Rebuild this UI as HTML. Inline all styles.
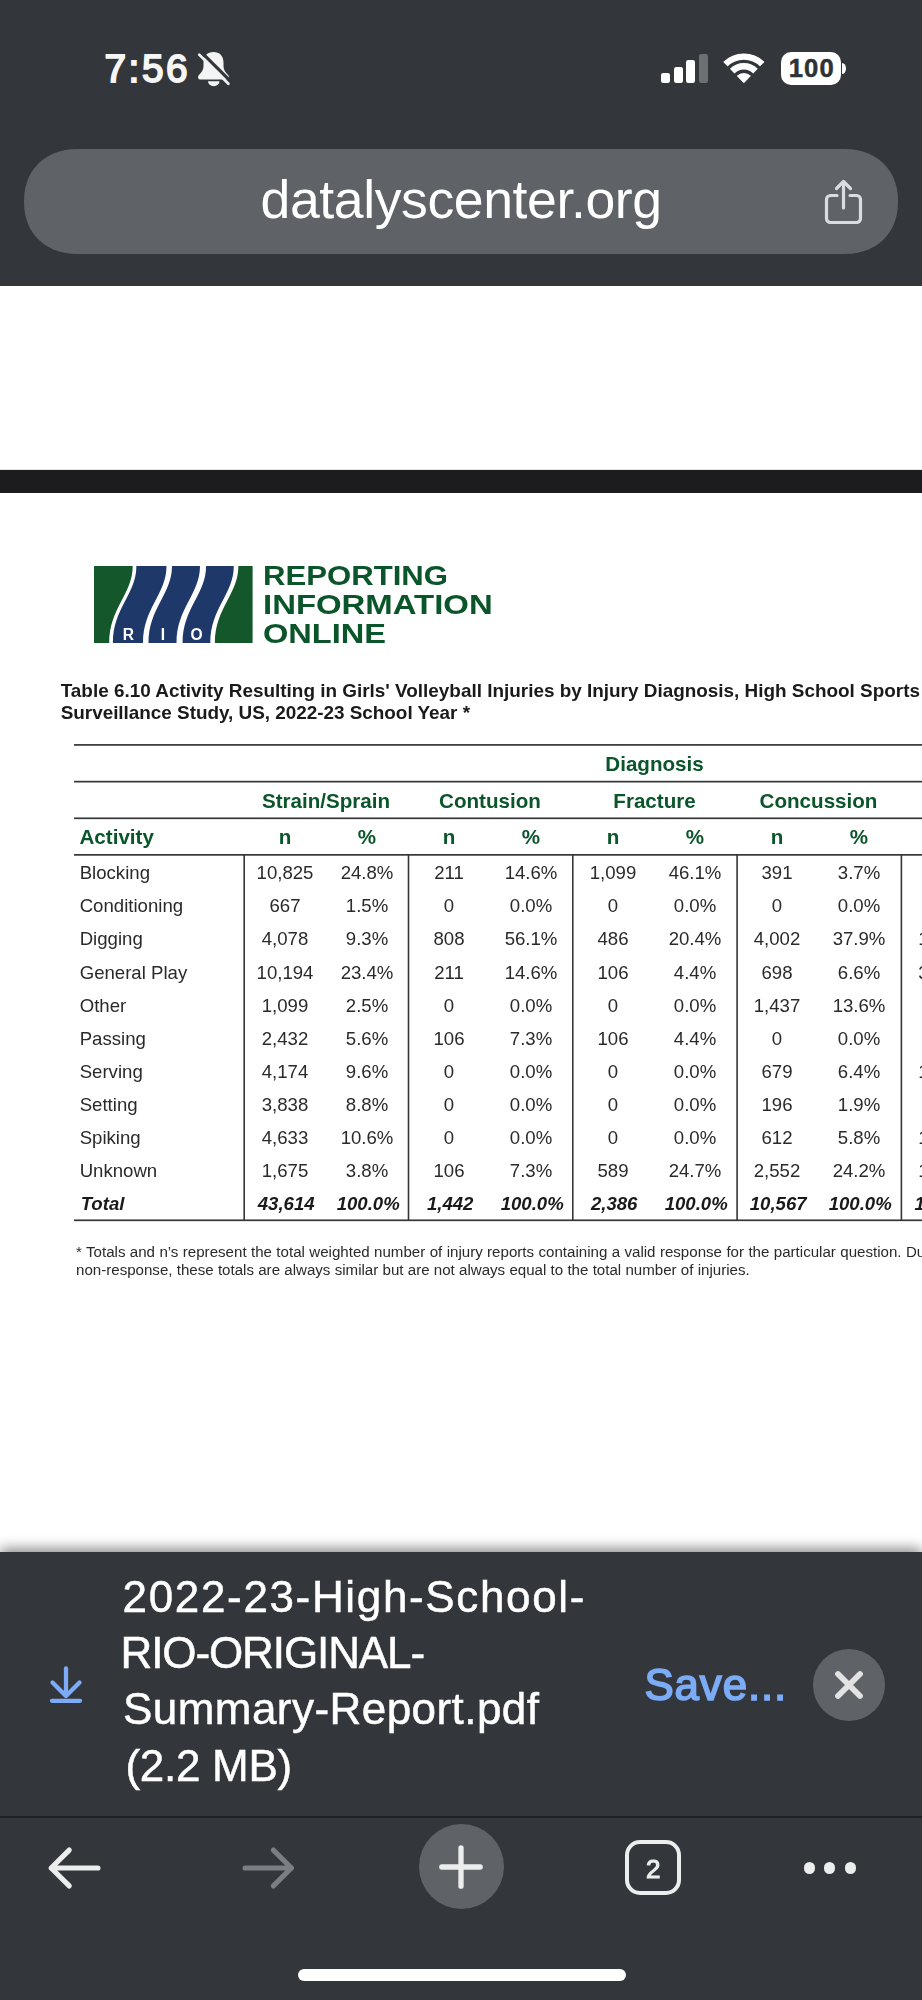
<!DOCTYPE html>
<html><head><meta charset="utf-8"><title>datalyscenter.org</title>
<style>
html,body{margin:0;padding:0;}
body{width:922px;height:2000px;position:relative;overflow:hidden;background:#fff;font-family:"Liberation Sans",sans-serif;}
.t{position:absolute;white-space:nowrap;line-height:1;}
.a{position:absolute;}
.hl{position:absolute;background:#363636;height:1.6px;}
.vl{position:absolute;background:#363636;width:1.6px;}
</style></head><body><div id="root" style="position:absolute;left:0;top:0;width:922px;height:2000px;opacity:.9999">

<div class="a" style="left:0;top:0;width:922px;height:285.5px;background:#33363a"></div>
<div class="t" style="top:49.76px;font-size:38.8px;color:#f6f6f6;font-weight:400;letter-spacing:2.6px;left:104.4px;-webkit-text-stroke:1.8px #f6f6f6;">7:56</div>
<svg class="a" style="left:190px;top:45px" width="50" height="50" viewBox="0 0 50 50">
<path d="M23.5 7C29.5 7 33.5 11 33.5 17.5L33.5 21C33.5 25 35.5 27.5 38 30C39.8 31.8 39 34.5 36.5 34.5L10.5 34.5C8 34.5 7.2 31.8 9 30C11.5 27.5 13.5 25 13.5 21L13.5 17.5C13.5 11 17.5 7 23.5 7Z" fill="#f4f4f4"/>
<path d="M18 36.2H29.5A5.750 5 0 0 1 18 36.2Z" fill="#f4f4f4"/>
<path d="M11.300 7.100L40.900 36.700" stroke="#33363a" stroke-width="3.200"/>
<path d="M9.200 9.600L38.400 38.800" stroke="#f4f4f4" stroke-width="2.700" stroke-linecap="round"/>
</svg>
<div class="a" style="left:661px;top:72.6px;width:9px;height:10.0px;background:#fff;border-radius:2.2px"></div>
<div class="a" style="left:673.7px;top:66.7px;width:9px;height:15.9px;background:#fff;border-radius:2.2px"></div>
<div class="a" style="left:686.4px;top:60px;width:9px;height:22.6px;background:#fff;border-radius:2.2px"></div>
<div class="a" style="left:699.1px;top:53.6px;width:9px;height:29.0px;background:#6d7073;border-radius:2.2px"></div>
<svg class="a" style="left:720px;top:50px" width="48" height="36" viewBox="0 0 48 36">
<defs><clipPath id="wf"><path d="M23.850 33.300L-8.350 -0.200H56.050Z"/></clipPath></defs>
<g clip-path="url(#wf)" fill="none" stroke="#fff">
<circle cx="23.850" cy="32.800" r="26.200" stroke-width="6.400"/>
<circle cx="23.850" cy="32.800" r="16.450" stroke-width="6.500"/>
<circle cx="23.850" cy="32.800" r="5" stroke-width="9.600"/>
</g></svg>
<div class="a" style="left:781px;top:52.100px;width:59.700px;height:32.600px;background:#fff;border-radius:10px"></div>
<div class="a" style="left:842.400px;top:63.300px;width:3.800px;height:10.400px;background:#fff;border-radius:0 4px 4px 0/0 5.200px 5.200px 0"></div>
<div class="t" style="top:55.93px;font-size:25.6px;color:#2f3235;font-weight:700;letter-spacing:1.2px;left:511.80px;width:600px;text-align:center;-webkit-text-stroke:0.5px #2f3235;">100</div>
<svg class="a" style="left:0;top:140px" width="922" height="124" viewBox="0 140 922 124"><path d="M844.0 149.0L851.2 149.3L857.6 150.2L863.5 151.7L869.1 153.8L874.3 156.4L879.0 159.6L883.3 163.3L887.1 167.5L890.4 172.1L893.1 177.1L895.2 182.5L896.8 188.3L897.7 194.5L898.0 201.5L897.7 208.5L896.8 214.7L895.2 220.5L893.1 225.9L890.4 230.9L887.1 235.5L883.3 239.7L879.0 243.4L874.3 246.6L869.1 249.2L863.5 251.3L857.6 252.8L851.2 253.7L844.0 254.0L78.0 254.0L70.8 253.7L64.4 252.8L58.5 251.3L52.9 249.2L47.7 246.6L43.0 243.4L38.7 239.7L34.9 235.5L31.6 230.9L28.9 225.9L26.8 220.5L25.2 214.7L24.3 208.5L24.0 201.5L24.3 194.5L25.2 188.3L26.8 182.5L28.9 177.1L31.6 172.1L34.9 167.5L38.7 163.3L43.0 159.6L47.7 156.4L52.9 153.8L58.5 151.7L64.4 150.2L70.8 149.3L78.0 149.0Z" fill="#5f6368"/></svg>
<div class="t" style="top:172.93px;font-size:53.6px;color:#fff;font-weight:400;letter-spacing:-0.42px;left:161.09px;width:600px;text-align:center;">datalyscenter.org</div>
<svg class="a" style="left:820px;top:176px" width="48" height="52" viewBox="0 0 48 52">
<g fill="none" stroke="#dadce0" stroke-width="3.200" stroke-linecap="round" stroke-linejoin="round">
<path d="M17 19.500h-6.500a4 4 0 0 0-4 4v19a4 4 0 0 0 4 4h26a4 4 0 0 0 4-4v-19a4 4 0 0 0-4-4H30"/>
<path d="M23.500 32V6"/><path d="M16.500 12.500l7-7 7 7"/>
</g></svg>
<div class="a" style="left:0;top:470px;width:922px;height:23px;background:#1c1c1e"></div>
<div class="a" style="left:0;top:468.500px;width:922px;height:1.500px;background:#e6e6e6"></div>
<svg class="a" style="left:94px;top:565.500px" width="159" height="77" viewBox="0 0 159 77"><rect x="0" y="0" width="158.600" height="77" fill="#13572b"/><path d="M38.7 0H144.4C144.4 28 120.9 42 120.9 77H15.200000000000003C15.200000000000003 42 38.7 28 38.7 0Z" fill="#fff"/><path d="M42.4 0H72.5C72.5 28 49.0 42 49.0 77H18.9C18.9 42 42.4 28 42.4 0Z" fill="#1d3869"/><path d="M78 0H106C106 28 82.5 42 82.5 77H54.5C54.5 42 78 28 78 0Z" fill="#1d3869"/><path d="M112.1 0H139.8C139.8 28 116.30000000000001 42 116.30000000000001 77H88.6C88.6 42 112.1 28 112.1 0Z" fill="#1d3869"/><g fill="#fff" font-family="Liberation Sans, sans-serif" font-weight="700" font-size="15.600" text-anchor="middle"><text x="34.500" y="74.200">R</text><text x="68.900" y="74.200">I</text><text x="102.600" y="74.200">O</text></g></svg>
<div class="t" style="top:561.46px;font-size:28.4px;color:#0a5529;font-weight:700;left:262.6px;transform:scaleX(1.096);transform-origin:0 0;">REPORTING</div>
<div class="t" style="top:590.06px;font-size:28.4px;color:#0a5529;font-weight:700;left:262.6px;transform:scaleX(1.159);transform-origin:0 0;">INFORMATION</div>
<div class="t" style="top:618.76px;font-size:28.4px;color:#0a5529;font-weight:700;left:262.6px;transform:scaleX(1.147);transform-origin:0 0;">ONLINE</div>
<div class="t" style="top:682.08px;font-size:18.92px;color:#1a1a1a;font-weight:700;left:60.7px;">Table 6.10 Activity Resulting in Girls' Volleyball Injuries by Injury Diagnosis, High School Sports</div>
<div class="t" style="top:703.88px;font-size:18.92px;color:#1a1a1a;font-weight:700;letter-spacing:-0.02px;left:60.7px;">Surveillance Study, US, 2022-23 School Year *</div>
<svg class="a" style="left:0;top:740px" width="922" height="490" viewBox="0 740 922 490" shape-rendering="geometricPrecision"><rect x="74" y="744.05" width="860" height="1.700" fill="#363636"/><rect x="74" y="780.80" width="860" height="1.700" fill="#363636"/><rect x="74" y="817.45" width="860" height="1.700" fill="#363636"/><rect x="74" y="854.00" width="860" height="1.700" fill="#363636"/><rect x="74" y="1219.45" width="860" height="1.700" fill="#363636"/><rect x="243.40" y="854.850" width="1.600" height="365.450" fill="#363636"/><rect x="407.70" y="854.850" width="1.600" height="365.450" fill="#363636"/><rect x="572.00" y="854.850" width="1.600" height="365.450" fill="#363636"/><rect x="736.30" y="854.850" width="1.600" height="365.450" fill="#363636"/><rect x="900.60" y="854.850" width="1.600" height="365.450" fill="#363636"/></svg>
<div class="t" style="top:753.56px;font-size:20.6px;color:#0a5529;font-weight:700;left:354.50px;width:600px;text-align:center;">Diagnosis</div>
<div class="t" style="top:791.16px;font-size:20.6px;color:#0a5529;font-weight:700;left:26.00px;width:600px;text-align:center;">Strain/Sprain</div>
<div class="t" style="top:791.16px;font-size:20.6px;color:#0a5529;font-weight:700;left:190.00px;width:600px;text-align:center;">Contusion</div>
<div class="t" style="top:791.16px;font-size:20.6px;color:#0a5529;font-weight:700;left:354.50px;width:600px;text-align:center;">Fracture</div>
<div class="t" style="top:791.16px;font-size:20.6px;color:#0a5529;font-weight:700;left:518.50px;width:600px;text-align:center;">Concussion</div>
<div class="t" style="top:826.56px;font-size:20.6px;color:#0a5529;font-weight:700;left:79.5px;">Activity</div>
<div class="t" style="top:826.56px;font-size:20.6px;color:#0a5529;font-weight:700;left:-15.00px;width:600px;text-align:center;">n</div>
<div class="t" style="top:826.56px;font-size:20.6px;color:#0a5529;font-weight:700;left:149.00px;width:600px;text-align:center;">n</div>
<div class="t" style="top:826.56px;font-size:20.6px;color:#0a5529;font-weight:700;left:313.00px;width:600px;text-align:center;">n</div>
<div class="t" style="top:826.56px;font-size:20.6px;color:#0a5529;font-weight:700;left:477.00px;width:600px;text-align:center;">n</div>
<div class="t" style="top:826.56px;font-size:20.6px;color:#0a5529;font-weight:700;left:67.00px;width:600px;text-align:center;">%</div>
<div class="t" style="top:826.56px;font-size:20.6px;color:#0a5529;font-weight:700;left:231.00px;width:600px;text-align:center;">%</div>
<div class="t" style="top:826.56px;font-size:20.6px;color:#0a5529;font-weight:700;left:395.00px;width:600px;text-align:center;">%</div>
<div class="t" style="top:826.56px;font-size:20.6px;color:#0a5529;font-weight:700;left:559.00px;width:600px;text-align:center;">%</div>
<div class="t" style="top:864.26px;font-size:18.6px;color:#2a2a2a;font-weight:400;left:79.7px;">Blocking</div>
<div class="t" style="top:864.26px;font-size:18.6px;color:#2a2a2a;font-weight:400;left:-15.00px;width:600px;text-align:center;">10,825</div>
<div class="t" style="top:864.26px;font-size:18.6px;color:#2a2a2a;font-weight:400;left:67.00px;width:600px;text-align:center;">24.8%</div>
<div class="t" style="top:864.26px;font-size:18.6px;color:#2a2a2a;font-weight:400;left:149.00px;width:600px;text-align:center;">211</div>
<div class="t" style="top:864.26px;font-size:18.6px;color:#2a2a2a;font-weight:400;left:231.00px;width:600px;text-align:center;">14.6%</div>
<div class="t" style="top:864.26px;font-size:18.6px;color:#2a2a2a;font-weight:400;left:313.00px;width:600px;text-align:center;">1,099</div>
<div class="t" style="top:864.26px;font-size:18.6px;color:#2a2a2a;font-weight:400;left:395.00px;width:600px;text-align:center;">46.1%</div>
<div class="t" style="top:864.26px;font-size:18.6px;color:#2a2a2a;font-weight:400;left:477.00px;width:600px;text-align:center;">391</div>
<div class="t" style="top:864.26px;font-size:18.6px;color:#2a2a2a;font-weight:400;left:559.00px;width:600px;text-align:center;">3.7%</div>
<div class="t" style="top:897.36px;font-size:18.6px;color:#2a2a2a;font-weight:400;left:79.7px;">Conditioning</div>
<div class="t" style="top:897.36px;font-size:18.6px;color:#2a2a2a;font-weight:400;left:-15.00px;width:600px;text-align:center;">667</div>
<div class="t" style="top:897.36px;font-size:18.6px;color:#2a2a2a;font-weight:400;left:67.00px;width:600px;text-align:center;">1.5%</div>
<div class="t" style="top:897.36px;font-size:18.6px;color:#2a2a2a;font-weight:400;left:149.00px;width:600px;text-align:center;">0</div>
<div class="t" style="top:897.36px;font-size:18.6px;color:#2a2a2a;font-weight:400;left:231.00px;width:600px;text-align:center;">0.0%</div>
<div class="t" style="top:897.36px;font-size:18.6px;color:#2a2a2a;font-weight:400;left:313.00px;width:600px;text-align:center;">0</div>
<div class="t" style="top:897.36px;font-size:18.6px;color:#2a2a2a;font-weight:400;left:395.00px;width:600px;text-align:center;">0.0%</div>
<div class="t" style="top:897.36px;font-size:18.6px;color:#2a2a2a;font-weight:400;left:477.00px;width:600px;text-align:center;">0</div>
<div class="t" style="top:897.36px;font-size:18.6px;color:#2a2a2a;font-weight:400;left:559.00px;width:600px;text-align:center;">0.0%</div>
<div class="t" style="top:930.46px;font-size:18.6px;color:#2a2a2a;font-weight:400;left:79.7px;">Digging</div>
<div class="t" style="top:930.46px;font-size:18.6px;color:#2a2a2a;font-weight:400;left:-15.00px;width:600px;text-align:center;">4,078</div>
<div class="t" style="top:930.46px;font-size:18.6px;color:#2a2a2a;font-weight:400;left:67.00px;width:600px;text-align:center;">9.3%</div>
<div class="t" style="top:930.46px;font-size:18.6px;color:#2a2a2a;font-weight:400;left:149.00px;width:600px;text-align:center;">808</div>
<div class="t" style="top:930.46px;font-size:18.6px;color:#2a2a2a;font-weight:400;left:231.00px;width:600px;text-align:center;">56.1%</div>
<div class="t" style="top:930.46px;font-size:18.6px;color:#2a2a2a;font-weight:400;left:313.00px;width:600px;text-align:center;">486</div>
<div class="t" style="top:930.46px;font-size:18.6px;color:#2a2a2a;font-weight:400;left:395.00px;width:600px;text-align:center;">20.4%</div>
<div class="t" style="top:930.46px;font-size:18.6px;color:#2a2a2a;font-weight:400;left:477.00px;width:600px;text-align:center;">4,002</div>
<div class="t" style="top:930.46px;font-size:18.6px;color:#2a2a2a;font-weight:400;left:559.00px;width:600px;text-align:center;">37.9%</div>
<div class="t" style="top:930.46px;font-size:18.6px;color:#2a2a2a;font-weight:400;left:918.3px;">1</div>
<div class="t" style="top:963.56px;font-size:18.6px;color:#2a2a2a;font-weight:400;left:79.7px;">General Play</div>
<div class="t" style="top:963.56px;font-size:18.6px;color:#2a2a2a;font-weight:400;left:-15.00px;width:600px;text-align:center;">10,194</div>
<div class="t" style="top:963.56px;font-size:18.6px;color:#2a2a2a;font-weight:400;left:67.00px;width:600px;text-align:center;">23.4%</div>
<div class="t" style="top:963.56px;font-size:18.6px;color:#2a2a2a;font-weight:400;left:149.00px;width:600px;text-align:center;">211</div>
<div class="t" style="top:963.56px;font-size:18.6px;color:#2a2a2a;font-weight:400;left:231.00px;width:600px;text-align:center;">14.6%</div>
<div class="t" style="top:963.56px;font-size:18.6px;color:#2a2a2a;font-weight:400;left:313.00px;width:600px;text-align:center;">106</div>
<div class="t" style="top:963.56px;font-size:18.6px;color:#2a2a2a;font-weight:400;left:395.00px;width:600px;text-align:center;">4.4%</div>
<div class="t" style="top:963.56px;font-size:18.6px;color:#2a2a2a;font-weight:400;left:477.00px;width:600px;text-align:center;">698</div>
<div class="t" style="top:963.56px;font-size:18.6px;color:#2a2a2a;font-weight:400;left:559.00px;width:600px;text-align:center;">6.6%</div>
<div class="t" style="top:963.56px;font-size:18.6px;color:#2a2a2a;font-weight:400;left:918.3px;">3</div>
<div class="t" style="top:996.66px;font-size:18.6px;color:#2a2a2a;font-weight:400;left:79.7px;">Other</div>
<div class="t" style="top:996.66px;font-size:18.6px;color:#2a2a2a;font-weight:400;left:-15.00px;width:600px;text-align:center;">1,099</div>
<div class="t" style="top:996.66px;font-size:18.6px;color:#2a2a2a;font-weight:400;left:67.00px;width:600px;text-align:center;">2.5%</div>
<div class="t" style="top:996.66px;font-size:18.6px;color:#2a2a2a;font-weight:400;left:149.00px;width:600px;text-align:center;">0</div>
<div class="t" style="top:996.66px;font-size:18.6px;color:#2a2a2a;font-weight:400;left:231.00px;width:600px;text-align:center;">0.0%</div>
<div class="t" style="top:996.66px;font-size:18.6px;color:#2a2a2a;font-weight:400;left:313.00px;width:600px;text-align:center;">0</div>
<div class="t" style="top:996.66px;font-size:18.6px;color:#2a2a2a;font-weight:400;left:395.00px;width:600px;text-align:center;">0.0%</div>
<div class="t" style="top:996.66px;font-size:18.6px;color:#2a2a2a;font-weight:400;left:477.00px;width:600px;text-align:center;">1,437</div>
<div class="t" style="top:996.66px;font-size:18.6px;color:#2a2a2a;font-weight:400;left:559.00px;width:600px;text-align:center;">13.6%</div>
<div class="t" style="top:1029.76px;font-size:18.6px;color:#2a2a2a;font-weight:400;left:79.7px;">Passing</div>
<div class="t" style="top:1029.76px;font-size:18.6px;color:#2a2a2a;font-weight:400;left:-15.00px;width:600px;text-align:center;">2,432</div>
<div class="t" style="top:1029.76px;font-size:18.6px;color:#2a2a2a;font-weight:400;left:67.00px;width:600px;text-align:center;">5.6%</div>
<div class="t" style="top:1029.76px;font-size:18.6px;color:#2a2a2a;font-weight:400;left:149.00px;width:600px;text-align:center;">106</div>
<div class="t" style="top:1029.76px;font-size:18.6px;color:#2a2a2a;font-weight:400;left:231.00px;width:600px;text-align:center;">7.3%</div>
<div class="t" style="top:1029.76px;font-size:18.6px;color:#2a2a2a;font-weight:400;left:313.00px;width:600px;text-align:center;">106</div>
<div class="t" style="top:1029.76px;font-size:18.6px;color:#2a2a2a;font-weight:400;left:395.00px;width:600px;text-align:center;">4.4%</div>
<div class="t" style="top:1029.76px;font-size:18.6px;color:#2a2a2a;font-weight:400;left:477.00px;width:600px;text-align:center;">0</div>
<div class="t" style="top:1029.76px;font-size:18.6px;color:#2a2a2a;font-weight:400;left:559.00px;width:600px;text-align:center;">0.0%</div>
<div class="t" style="top:1062.86px;font-size:18.6px;color:#2a2a2a;font-weight:400;left:79.7px;">Serving</div>
<div class="t" style="top:1062.86px;font-size:18.6px;color:#2a2a2a;font-weight:400;left:-15.00px;width:600px;text-align:center;">4,174</div>
<div class="t" style="top:1062.86px;font-size:18.6px;color:#2a2a2a;font-weight:400;left:67.00px;width:600px;text-align:center;">9.6%</div>
<div class="t" style="top:1062.86px;font-size:18.6px;color:#2a2a2a;font-weight:400;left:149.00px;width:600px;text-align:center;">0</div>
<div class="t" style="top:1062.86px;font-size:18.6px;color:#2a2a2a;font-weight:400;left:231.00px;width:600px;text-align:center;">0.0%</div>
<div class="t" style="top:1062.86px;font-size:18.6px;color:#2a2a2a;font-weight:400;left:313.00px;width:600px;text-align:center;">0</div>
<div class="t" style="top:1062.86px;font-size:18.6px;color:#2a2a2a;font-weight:400;left:395.00px;width:600px;text-align:center;">0.0%</div>
<div class="t" style="top:1062.86px;font-size:18.6px;color:#2a2a2a;font-weight:400;left:477.00px;width:600px;text-align:center;">679</div>
<div class="t" style="top:1062.86px;font-size:18.6px;color:#2a2a2a;font-weight:400;left:559.00px;width:600px;text-align:center;">6.4%</div>
<div class="t" style="top:1062.86px;font-size:18.6px;color:#2a2a2a;font-weight:400;left:918.3px;">1</div>
<div class="t" style="top:1095.96px;font-size:18.6px;color:#2a2a2a;font-weight:400;left:79.7px;">Setting</div>
<div class="t" style="top:1095.96px;font-size:18.6px;color:#2a2a2a;font-weight:400;left:-15.00px;width:600px;text-align:center;">3,838</div>
<div class="t" style="top:1095.96px;font-size:18.6px;color:#2a2a2a;font-weight:400;left:67.00px;width:600px;text-align:center;">8.8%</div>
<div class="t" style="top:1095.96px;font-size:18.6px;color:#2a2a2a;font-weight:400;left:149.00px;width:600px;text-align:center;">0</div>
<div class="t" style="top:1095.96px;font-size:18.6px;color:#2a2a2a;font-weight:400;left:231.00px;width:600px;text-align:center;">0.0%</div>
<div class="t" style="top:1095.96px;font-size:18.6px;color:#2a2a2a;font-weight:400;left:313.00px;width:600px;text-align:center;">0</div>
<div class="t" style="top:1095.96px;font-size:18.6px;color:#2a2a2a;font-weight:400;left:395.00px;width:600px;text-align:center;">0.0%</div>
<div class="t" style="top:1095.96px;font-size:18.6px;color:#2a2a2a;font-weight:400;left:477.00px;width:600px;text-align:center;">196</div>
<div class="t" style="top:1095.96px;font-size:18.6px;color:#2a2a2a;font-weight:400;left:559.00px;width:600px;text-align:center;">1.9%</div>
<div class="t" style="top:1129.06px;font-size:18.6px;color:#2a2a2a;font-weight:400;left:79.7px;">Spiking</div>
<div class="t" style="top:1129.06px;font-size:18.6px;color:#2a2a2a;font-weight:400;left:-15.00px;width:600px;text-align:center;">4,633</div>
<div class="t" style="top:1129.06px;font-size:18.6px;color:#2a2a2a;font-weight:400;left:67.00px;width:600px;text-align:center;">10.6%</div>
<div class="t" style="top:1129.06px;font-size:18.6px;color:#2a2a2a;font-weight:400;left:149.00px;width:600px;text-align:center;">0</div>
<div class="t" style="top:1129.06px;font-size:18.6px;color:#2a2a2a;font-weight:400;left:231.00px;width:600px;text-align:center;">0.0%</div>
<div class="t" style="top:1129.06px;font-size:18.6px;color:#2a2a2a;font-weight:400;left:313.00px;width:600px;text-align:center;">0</div>
<div class="t" style="top:1129.06px;font-size:18.6px;color:#2a2a2a;font-weight:400;left:395.00px;width:600px;text-align:center;">0.0%</div>
<div class="t" style="top:1129.06px;font-size:18.6px;color:#2a2a2a;font-weight:400;left:477.00px;width:600px;text-align:center;">612</div>
<div class="t" style="top:1129.06px;font-size:18.6px;color:#2a2a2a;font-weight:400;left:559.00px;width:600px;text-align:center;">5.8%</div>
<div class="t" style="top:1129.06px;font-size:18.6px;color:#2a2a2a;font-weight:400;left:918.3px;">1</div>
<div class="t" style="top:1162.16px;font-size:18.6px;color:#2a2a2a;font-weight:400;left:79.7px;">Unknown</div>
<div class="t" style="top:1162.16px;font-size:18.6px;color:#2a2a2a;font-weight:400;left:-15.00px;width:600px;text-align:center;">1,675</div>
<div class="t" style="top:1162.16px;font-size:18.6px;color:#2a2a2a;font-weight:400;left:67.00px;width:600px;text-align:center;">3.8%</div>
<div class="t" style="top:1162.16px;font-size:18.6px;color:#2a2a2a;font-weight:400;left:149.00px;width:600px;text-align:center;">106</div>
<div class="t" style="top:1162.16px;font-size:18.6px;color:#2a2a2a;font-weight:400;left:231.00px;width:600px;text-align:center;">7.3%</div>
<div class="t" style="top:1162.16px;font-size:18.6px;color:#2a2a2a;font-weight:400;left:313.00px;width:600px;text-align:center;">589</div>
<div class="t" style="top:1162.16px;font-size:18.6px;color:#2a2a2a;font-weight:400;left:395.00px;width:600px;text-align:center;">24.7%</div>
<div class="t" style="top:1162.16px;font-size:18.6px;color:#2a2a2a;font-weight:400;left:477.00px;width:600px;text-align:center;">2,552</div>
<div class="t" style="top:1162.16px;font-size:18.6px;color:#2a2a2a;font-weight:400;left:559.00px;width:600px;text-align:center;">24.2%</div>
<div class="t" style="top:1162.16px;font-size:18.6px;color:#2a2a2a;font-weight:400;left:918.3px;">1</div>
<div class="t" style="top:1195.26px;font-size:18.6px;color:#1a1a1a;font-weight:700;font-style:italic;left:80.7px;">Total</div>
<div class="t" style="top:1195.26px;font-size:18.6px;color:#1a1a1a;font-weight:700;font-style:italic;left:-13.80px;width:600px;text-align:center;">43,614</div>
<div class="t" style="top:1195.26px;font-size:18.6px;color:#1a1a1a;font-weight:700;font-style:italic;left:68.20px;width:600px;text-align:center;">100.0%</div>
<div class="t" style="top:1195.26px;font-size:18.6px;color:#1a1a1a;font-weight:700;font-style:italic;left:150.20px;width:600px;text-align:center;">1,442</div>
<div class="t" style="top:1195.26px;font-size:18.6px;color:#1a1a1a;font-weight:700;font-style:italic;left:232.20px;width:600px;text-align:center;">100.0%</div>
<div class="t" style="top:1195.26px;font-size:18.6px;color:#1a1a1a;font-weight:700;font-style:italic;left:314.20px;width:600px;text-align:center;">2,386</div>
<div class="t" style="top:1195.26px;font-size:18.6px;color:#1a1a1a;font-weight:700;font-style:italic;left:396.20px;width:600px;text-align:center;">100.0%</div>
<div class="t" style="top:1195.26px;font-size:18.6px;color:#1a1a1a;font-weight:700;font-style:italic;left:478.20px;width:600px;text-align:center;">10,567</div>
<div class="t" style="top:1195.26px;font-size:18.6px;color:#1a1a1a;font-weight:700;font-style:italic;left:560.20px;width:600px;text-align:center;">100.0%</div>
<div class="t" style="top:1195.26px;font-size:18.6px;color:#1a1a1a;font-weight:700;font-style:italic;left:914.6px;">1</div>
<div class="t" style="top:1244.22px;font-size:15.1px;color:#2a2a2a;font-weight:400;left:76px;word-spacing:0.2px;">* Totals and n&rsquo;s represent the total weighted number of injury reports containing a valid response for the particular question. Due to</div>
<div class="t" style="top:1261.82px;font-size:15.1px;color:#2a2a2a;font-weight:400;left:76px;word-spacing:0.05px;">non-response, these totals are always similar but are not always equal to the total number of injuries.</div>
<div class="a" style="left:0;top:1552px;width:922px;height:448px;background:#33363a;box-shadow:0 -3px 13px rgba(0,0,0,.5)"></div>
<div class="a" style="left:0;top:1816px;width:922px;height:1.500px;background:#1f2124"></div>
<svg class="a" style="left:46px;top:1662px" width="40" height="46" viewBox="0 0 40 46">
<g fill="none" stroke="#7cacf8" stroke-width="4.300" stroke-linecap="round" stroke-linejoin="round">
<path d="M20 6.500V33"/><path d="M6.500 20.500L20 34l13.500-13.500"/><path d="M6 38.800h28"/></g></svg>
<div class="t" style="top:1575.05px;font-size:44px;color:#fff;font-weight:400;letter-spacing:1.65px;left:122.6px;-webkit-text-stroke:0.5px #fff;">2022-23-High-School-</div>
<div class="t" style="top:1631.45px;font-size:44px;color:#fff;font-weight:400;letter-spacing:-1.1px;left:120.5px;-webkit-text-stroke:0.5px #fff;">RIO-ORIGINAL-</div>
<div class="t" style="top:1687.35px;font-size:44px;color:#fff;font-weight:400;letter-spacing:0.45px;left:123px;-webkit-text-stroke:0.5px #fff;">Summary-Report.pdf</div>
<div class="t" style="top:1744.25px;font-size:44px;color:#fff;font-weight:400;letter-spacing:-0.3px;left:125.5px;-webkit-text-stroke:0.5px #fff;">(2.2 MB)</div>
<div class="t" style="top:1662.52px;font-size:43.8px;color:#7cacf8;font-weight:400;letter-spacing:0.9px;left:644.5px;-webkit-text-stroke:1.7px #7cacf8;">Save...</div>
<div class="a" style="left:813px;top:1649px;width:71.600px;height:71.600px;border-radius:50%;background:#5f6368"></div>
<svg class="a" style="left:829px;top:1665px" width="40" height="40" viewBox="0 0 40 40">
<path d="M9 9l22 22M31 9L9 31" stroke="#e3e3e3" stroke-width="5.800" stroke-linecap="round"/></svg>
<svg class="a" style="left:40px;top:1836px" width="70" height="64" viewBox="0 0 70 64">
<g fill="none" stroke="#eceded" stroke-width="5.200" stroke-linecap="round" stroke-linejoin="round"><path d="M11.500 32h46.400"/><path d="M29.200 14.100L11.200 32l18 17.900"/></g></svg>
<svg class="a" style="left:233px;top:1836px" width="70" height="64" viewBox="0 0 70 64">
<g fill="none" stroke="#7b7e82" stroke-width="5.200" stroke-linecap="round" stroke-linejoin="round"><path d="M12.100 32h46"/><path d="M40.400 14.100L58.400 32l-18 17.900"/></g></svg>
<div class="a" style="left:418.700px;top:1824.300px;width:85px;height:85px;border-radius:50%;background:#5f6368"></div>
<svg class="a" style="left:436.200px;top:1841.800px" width="50" height="50" viewBox="0 0 50 50">
<path d="M25 5.800v38.400M5.800 25h38.400" stroke="#eceded" stroke-width="5.300" stroke-linecap="round"/></svg>
<div class="a" style="left:625px;top:1839.700px;width:47.800px;height:47.600px;border:4.300px solid #eceded;border-radius:15px"></div>
<div class="t" style="top:1856.19px;font-size:26px;color:#eceded;font-weight:400;left:353.30px;width:600px;text-align:center;-webkit-text-stroke:1.1px #eceded;">2</div>
<div class="a" style="left:803.9px;top:1862.4px;width:11.200px;height:11.200px;border-radius:50%;background:#eceded"></div>
<div class="a" style="left:824.3px;top:1862.4px;width:11.200px;height:11.200px;border-radius:50%;background:#eceded"></div>
<div class="a" style="left:844.6999999999999px;top:1862.4px;width:11.200px;height:11.200px;border-radius:50%;background:#eceded"></div>
<div class="a" style="left:298px;top:1969px;width:328px;height:12px;border-radius:6px;background:#fff"></div>
</div></body></html>
